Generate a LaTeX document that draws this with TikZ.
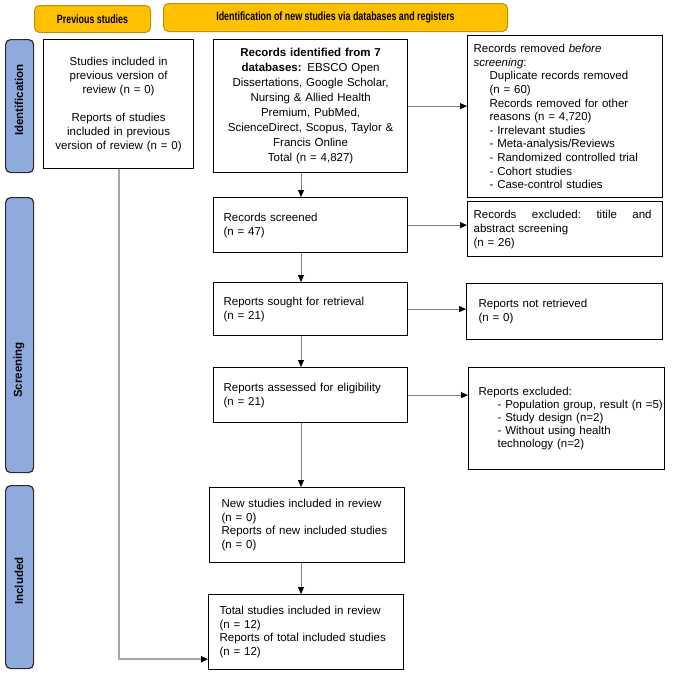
\documentclass[tikz,border=0pt]{standalone}
\usepackage{fontspec}
\setmainfont{Liberation Sans}
\newfontfamily\narrowfont[FakeStretch=0.74, BoldFont={Liberation Sans Bold}, BoldFeatures={FakeStretch=0.74}]{Liberation Sans}
\usetikzlibrary{arrows.meta}
\definecolor{hdr}{HTML}{FFC000}
\definecolor{hdrline}{HTML}{BF9000}
\definecolor{side}{HTML}{8FAADC}
\definecolor{sideline}{HTML}{2B2B2B}
\definecolor{conn}{HTML}{7F7F7F}
\definecolor{prevc}{HTML}{A6A6A6}
\tikzset{
  base/.style={draw=black, line width=1.2pt, anchor=north west, inner ysep=0pt,
    font=\fontsize{11.5}{14}\selectfont},
  lbox/.style={base, align=left},
  cbox/.style={base, align=center},
  hdrbox/.style={draw=hdrline, fill=hdr, rounded corners=5pt, line width=1pt,
    anchor=north west, inner sep=0pt, font=\narrowfont\bfseries\fontsize{12}{13}\selectfont},
  sidebar/.style={draw=sideline, fill=side, rounded corners=5pt, line width=1.2pt,
    anchor=north west, inner sep=0pt, minimum width=28pt},
  sidelabel/.style={rotate=90, inner sep=0pt, font=\bfseries\fontsize{11.5}{13}\selectfont},
  arr/.style={draw=conn, line width=0.9pt, -{Triangle[length=7pt,width=6pt,color=black]}},
  prevarr/.style={draw=prevc, line width=1.8pt, -{Triangle[length=7pt,width=6pt,color=black]}}
}
\begin{document}
\begin{tikzpicture}[x=1pt,y=-1pt]
\useasboundingbox (0,0) rectangle (679,672);
% headers
\node[hdrbox, minimum width=116pt, minimum height=27pt] (prevh) at (34,5) {Previous studies};
\node[hdrbox, minimum width=344pt, minimum height=28pt] (idh) at (163,3) {Identification of new studies via databases and registers};
% side bars
\node[sidebar, minimum height=133pt] (sbi) at (5,39) {};
\node[sidebar, minimum height=275pt] (sbs) at (5,197) {};
\node[sidebar, minimum height=183pt] (sbn) at (5,485) {};
\node[sidelabel] (li) at (19,100) {Identification};
\node[sidelabel] (ls) at (19,370) {Screening};
\node[sidelabel] (ln) at (19,581) {Included};
% boxes
\node[cbox, minimum width=150pt, minimum height=129pt, inner xsep=6pt, text width=138pt] (prev) at (43,39)
 {Studies included in\\previous version of\\review (n = 0)\\[14pt]Reports of studies\\included in previous\\version of review (n = 0)};
\node[cbox, minimum width=194pt, minimum height=133pt, inner xsep=5pt, text width=184pt,
  font=\fontsize{11.5}{15}\selectfont] (ri) at (213,39)
 {\textbf{Records identified from 7}\\\textbf{databases:} EBSCO Open\\Dissertations, Google Scholar,\\Nursing \& Allied Health\\Premium, PubMed,\\ScienceDirect, Scopus, Taylor \&\\Francis Online\\Total (n = 4,827)};
\node[lbox, minimum width=195pt, minimum height=162pt, inner xsep=6pt, text width=183pt,
  font=\fontsize{11.5}{13.6}\selectfont] (rr) at (467,35)
 {Records removed \textit{before}\\\textit{screening}:\\
  \hspace*{16pt}Duplicate records removed\\
  \hspace*{16pt}(n = 60)\\
  \hspace*{16pt}Records removed for other\\
  \hspace*{16pt}reasons (n = 4,720)\\
  \hspace*{16pt}- Irrelevant studies\\
  \hspace*{16pt}- Meta-analysis/Reviews\\
  \hspace*{16pt}- Randomized controlled trial\\
  \hspace*{16pt}- Cohort studies\\
  \hspace*{16pt}- Case-control studies};
\node[lbox, minimum width=194pt, minimum height=55pt, inner xsep=10pt, text width=174pt] (rs) at (213,197)
 {Records screened\\(n = 47)};
\node[lbox, minimum width=195pt, minimum height=55pt, inner xsep=6pt, text width=183pt] (re) at (467,201)
 {\hbox to 178pt{Records\hfill excluded:\hfill titile\hfill and}\\abstract screening\\(n = 26)};
\node[lbox, minimum width=194pt, minimum height=53pt, inner xsep=10pt, text width=174pt] (rsought) at (213,282)
 {Reports sought for retrieval\\(n = 21)};
\node[lbox, minimum width=196pt, minimum height=56pt, inner xsep=12pt, text width=172pt] (nr) at (466,283)
 {Reports not retrieved\\(n = 0)};
\node[lbox, minimum width=194pt, minimum height=55pt, inner xsep=10pt, text width=174pt] (ra) at (213,367)
 {Reports assessed for eligibility\\(n = 21)};
\node[lbox, minimum width=196pt, minimum height=102pt, inner xsep=10pt, text width=176pt,
  font=\fontsize{11.5}{13.2}\selectfont] (rex) at (468,367)
 {Reports excluded:\\
  \hspace*{19pt}\mbox{- Population group, result (n =5)}\\
  \hspace*{19pt}- Study design (n=2)\\
  \hspace*{19pt}- Without using health\\
  \hspace*{19pt}technology (n=2)};
\node[lbox, minimum width=195pt, minimum height=75pt, inner xsep=12pt, text width=171pt,
  font=\fontsize{11.5}{13.8}\selectfont] (new) at (209,487)
 {New studies included in review\\(n = 0)\\\mbox{Reports of new included studies}\\(n = 0)};
\node[lbox, minimum width=195pt, minimum height=75pt, inner xsep=11pt, text width=173pt,
  font=\fontsize{11.5}{13.8}\selectfont] (tot) at (208,594)
 {Total studies included in review\\(n = 12)\\\mbox{Reports of total included studies}\\(n = 12)};
% connectors
\coordinate (ax) at (301,0);
\draw[arr] (ri.south -| ax) -- (rs.north -| ax);
\draw[arr] (rs.south -| ax) -- (rsought.north -| ax);
\draw[arr] (rsought.south -| ax) -- (ra.north -| ax);
\draw[arr] (ra.south -| ax) -- (new.north -| ax);
\draw[arr] (new.south -| ax) -- (tot.north -| ax);
\draw[arr] (ri.east) -- (ri.east -| rr.west);
\draw[arr] (rs.east) -- (rs.east -| re.west);
\draw[arr] (rsought.east) -- (rsought.east -| nr.west);
\draw[arr] (ra.east) -- (ra.east -| rex.west);
\draw[prevarr] (prev.south) |- ([yshift=11pt]tot.south west);
\end{tikzpicture}
\end{document}
